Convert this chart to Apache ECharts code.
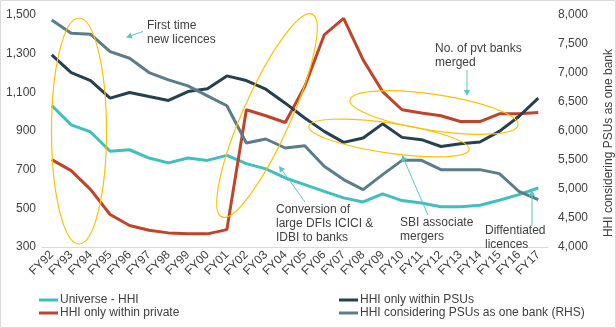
<!DOCTYPE html>
<html>
<head>
<meta charset="utf-8">
<script src="https://cdn.jsdelivr.net/npm/echarts@6/dist/echarts.min.js"></script>
<style>
  html, body { margin: 0; padding: 0; background: #fff; }
  #chart { width: 616px; height: 328px; }
</style>
</head>
<body>
<div id="chart"></div>
<script>
// Fiscal years on the category axis
const categories = ['FY92','FY93','FY94','FY95','FY96','FY97','FY98','FY99','FY00','FY01',
  'FY02','FY03','FY04','FY05','FY06','FY07','FY08','FY09','FY10','FY11',
  'FY12','FY13','FY14','FY15','FY16','FY17'];

// Herfindahl-Hirschman index series (left axis)
const universeHHI = [1032, 932, 895, 795, 803, 760, 735, 760, 748, 774,
  731, 704, 657, 623, 588, 554, 533, 575, 540, 528,
  508, 508, 516, 542, 571, 605];
const privateHHI = [752, 695, 597, 468, 411, 387, 373, 368, 368, 390,
  1010, 979, 944, 1130, 1397, 1483, 1268, 1104, 1010, 993,
  979, 949, 949, 989, 989, 996];
const psuHHI = [1294, 1202, 1161, 1070, 1099, 1078, 1058, 1104, 1118, 1185,
  1161, 1116, 1044, 967, 898, 841, 864, 937, 867, 855,
  820, 834, 843, 898, 975, 1070];

// HHI with all PSU banks treated as a single bank (right axis)
const psuOneBankHHI = [7914, 7685, 7668, 7369, 7255, 7008, 6882, 6779, 6607, 6435,
  5793, 5862, 5707, 5747, 5391, 5162, 4990, 5248, 5494, 5494,
  5334, 5334, 5334, 5265, 4961, 4818];

const seriesNames = ['Universe - HHI', 'HHI only within private', 'HHI only within PSUs',
  'HHI considering PSUs as one bank (RHS)'];

const FONT = '"Liberation Sans", Arial, sans-serif';
const TXT = '#404040';
const ARROW = '#5cc6c6';
const RING = '#FFC000';

function arrow(x1, y1, x2, y2) {
  const dx = x2 - x1, dy = y2 - y1, len = Math.hypot(dx, dy);
  const ux = dx / len, uy = dy / len, hl = 6, hw = 3.2;
  const bx = x2 - ux * hl, by = y2 - uy * hl;
  return [
    { type: 'line', z: 20, shape: { x1, y1, x2: bx, y2: by }, style: { stroke: ARROW, lineWidth: 1 } },
    { type: 'polygon', z: 20, shape: { points: [[x2, y2], [bx - uy * hw, by + ux * hw], [bx + uy * hw, by - ux * hw]] },
      style: { fill: ARROW } }
  ];
}
function ring(cx, cy, rx, ry, deg) {
  return { type: 'ellipse', z: 15, x: cx, y: cy, rotation: deg * Math.PI / 180,
    shape: { cx: 0, cy: 0, rx, ry }, style: { fill: 'none', stroke: RING, lineWidth: 1.2 } };
}
function note(x, y, text) {
  return { type: 'text', z: 20, x, y, style: { text, fill: TXT, fontSize: 12, fontFamily: FONT,
    lineHeight: 14, verticalAlign: 'top', align: 'left' } };
}

const chart = echarts.init(document.getElementById('chart'), null, { renderer: 'canvas' });

const lineSeries = (name, data, color, axis) => ({
  name, type: 'line', data, yAxisIndex: axis, symbol: 'none',
  lineStyle: { color, width: 3 }, itemStyle: { color }, animation: false
});

chart.setOption({
  animation: false,
  textStyle: { fontFamily: FONT },
  grid: { left: 42, right: 68, top: 15, bottom: 81, containLabel: false },
  xAxis: {
    type: 'category', data: categories, boundaryGap: true,
    axisLine: { lineStyle: { color: '#d9d9d9', width: 1 } },
    axisTick: { show: false },
    axisLabel: { rotate: 45, color: TXT, fontSize: 12, margin: 6, interval: 0 }
  },
  yAxis: [
    { type: 'value', min: 300, max: 1500, interval: 200, position: 'left',
      splitLine: { show: false }, axisLine: { show: false }, axisTick: { show: false },
      axisLabel: { color: TXT, fontSize: 12, margin: 6,
        formatter: v => v.toLocaleString('en-US') } },
    { type: 'value', min: 4000, max: 8000, interval: 500, position: 'right',
      splitLine: { show: false }, axisLine: { show: false }, axisTick: { show: false },
      axisLabel: { color: TXT, fontSize: 12, margin: 10,
        formatter: v => v.toLocaleString('en-US') } }
  ],
  legend: [
    { left: 34, top: 289, orient: 'vertical', itemGap: 1, icon: 'rect', itemWidth: 19, itemHeight: 3,
      data: [seriesNames[0], seriesNames[1]], textStyle: { color: TXT, fontSize: 12, padding: [0, 0, 0, -3] } },
    { left: 334, top: 289, orient: 'vertical', itemGap: 1, icon: 'rect', itemWidth: 19, itemHeight: 3,
      data: [seriesNames[2], seriesNames[3]], textStyle: { color: TXT, fontSize: 12, padding: [0, 0, 0, -3] } }
  ],
  series: [
    lineSeries(seriesNames[0], universeHHI, '#3fbfbf', 0),
    lineSeries(seriesNames[1], privateHHI, '#c1432b', 0),
    lineSeries(seriesNames[2], psuHHI, '#25404f', 0),
    lineSeries(seriesNames[3], psuOneBankHHI, '#5b7c8b', 1)
  ],
  graphic: [
    { type: 'rect', z: 0, shape: { x: 0.5, y: 0.5, width: 615, height: 327 },
      style: { fill: 'none', stroke: '#d9d9d9', lineWidth: 1 } },
    { type: 'text', z: 20, x: 609, y: 143, rotation: Math.PI / 2,
      style: { text: 'HHI considering PSUs as one bank', fill: TXT, fontSize: 12, fontFamily: FONT,
        align: 'center', verticalAlign: 'middle' } },
    ring(79, 131, 27.5, 113, 0),
    ring(267, 115.5, 24, 111, -24),
    ring(434, 112.5, 85, 18, -8.5),
    ring(389, 138, 81, 15, -8.3),
    note(147, 19, 'First time\nnew licences'),
    note(435, 42, 'No. of pvt banks\nmerged'),
    note(276, 203, 'Conversion of\nlarge DFIs ICICI &\nIDBI to banks'),
    note(400, 216, 'SBI associate\nmergers'),
    note(485, 224, 'Diffentiated\nlicences'),
    ...arrow(143, 31.5, 126, 37.5),
    ...arrow(305, 202, 279, 166),
    ...arrow(428, 215, 402, 155),
    ...arrow(467, 70, 467, 96),
    ...arrow(532, 226, 532, 190)
  ]
});
</script>
</body>
</html>
